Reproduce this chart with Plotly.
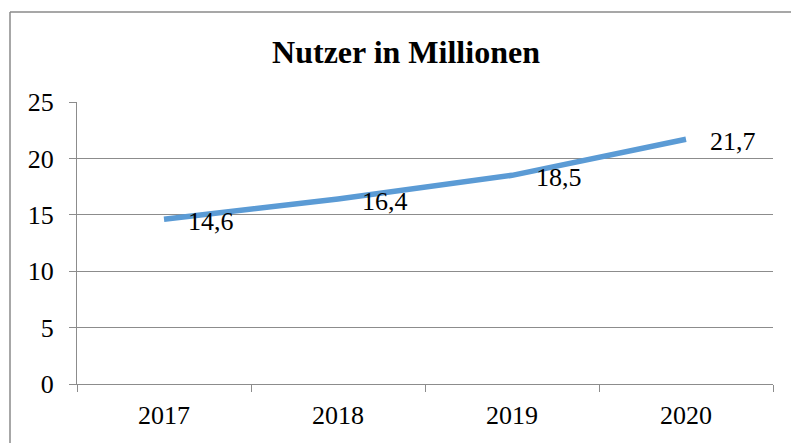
import plotly.graph_objects as go

years = ["2017", "2018", "2019", "2020"]
users = [14.6, 16.4, 18.5, 21.7]
labels = ["14,6", "16,4", "18,5", "21,7"]
y_ticks = [0, 5, 10, 15, 20, 25]

FONT = "Liberation Serif, Times New Roman, serif"
GRID = "#8c8c8c"
BORDER = "#8a8a8a"

fig = go.Figure()
fig.add_trace(go.Scatter(
    x=years, y=users, mode="lines",
    line=dict(color="#5b9bd5", width=5.5),
    hoverinfo="skip", showlegend=False,
))

for i, (y, t) in enumerate(zip(users, labels)):
    fig.add_annotation(x=i, y=y, text=t, showarrow=False,
                       xanchor="left", yanchor="middle",
                       xshift=22, yshift=-2,
                       font=dict(family=FONT, size=26, color="#000000"))

bx0 = (10 - 77) / 696
by1 = (384 - 12) / 282
fig.update_layout(
    width=791, height=443,
    margin=dict(l=77, r=18, t=102, b=59),
    paper_bgcolor="white", plot_bgcolor="white",
    font=dict(family=FONT, size=26, color="#000000"),
    title=dict(text="<b>Nutzer in Millionen</b>", x=406 / 791, xanchor="center",
               xref="container", yref="container", y=1 - 52 / 443, yanchor="middle",
               font=dict(family=FONT, size=32, color="#000000")),
    xaxis=dict(type="category", tickson="boundaries", ticks="outside",
               ticklen=7, tickcolor=GRID, showgrid=False, showline=True,
               linecolor=GRID, linewidth=1, range=[-0.5, 3.5],
               tickfont=dict(family=FONT, size=26), ticklabelstandoff=8),
    yaxis=dict(range=[0, 25], tickvals=y_ticks, ticks="outside", ticklen=7,
               tickcolor=GRID, showgrid=True, gridcolor=GRID, gridwidth=1,
               showline=True, linecolor=GRID, linewidth=1, zeroline=False,
               tickfont=dict(family=FONT, size=26), ticklabelstandoff=10),
    shapes=[
        dict(type="line", xref="paper", yref="paper",
             x0=bx0, x1=1.05, y0=by1, y1=by1,
             line=dict(color=BORDER, width=1.5), layer="below"),
        dict(type="line", xref="paper", yref="paper",
             x0=bx0, x1=bx0, y0=-0.3, y1=by1,
             line=dict(color=BORDER, width=1.5), layer="below"),
    ],
)

fig.write_html(
    "out.html",
    config={"displayModeBar": False},
    post_script="document.body.style.margin='0';document.body.style.overflow='hidden';",
)
